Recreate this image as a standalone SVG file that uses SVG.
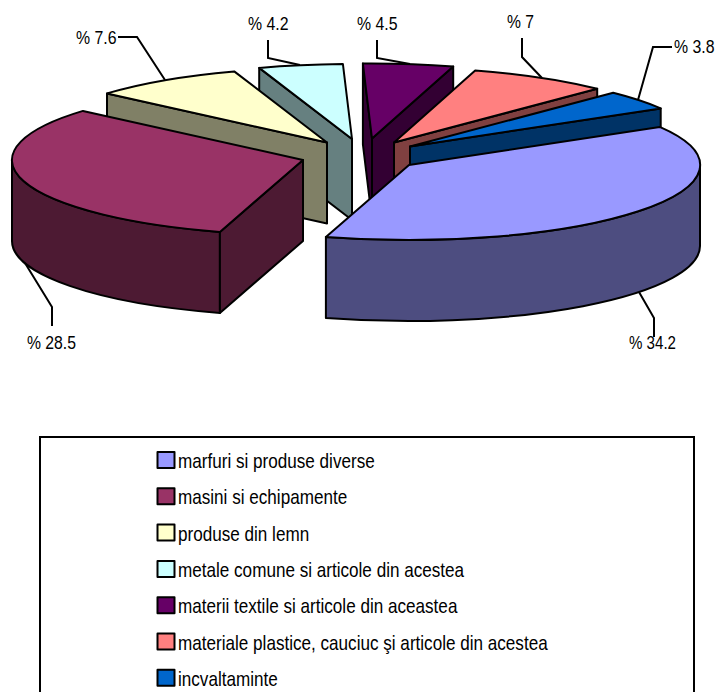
<svg xmlns="http://www.w3.org/2000/svg" width="719" height="692" viewBox="0 0 719 692">
<style>
.s{stroke:#000;stroke-width:2;stroke-linejoin:round}
.lbl{font-family:"Liberation Sans",Arial,sans-serif;font-size:17.5px;fill:#000}
.lead{fill:none;stroke:#000;stroke-width:2}
.leg{font-family:"Liberation Sans",Arial,sans-serif;font-size:21px;fill:#000}
.box{fill:none;stroke:#000;stroke-width:2}
</style>
<rect width="719" height="692" fill="#fff"/>
<g id="slice-metale">
<path class="s" fill="#668080" d="M352,139 L259.2,67.9 L259.2,148.9 L352,220 Z"/>
<path class="s" fill="#CCFFFF" d="M352,139 L259.2,67.9 A291,75 0 0 1 342.9,64 Z"/>
<text class="lbl" x="248" y="30" textLength="40.5" lengthAdjust="spacingAndGlyphs">% 4.2</text>
</g>
<g id="slice-textile">
<path class="s" fill="#330033" d="M372,138.5 L362.9,63.5 L362.9,144.5 L372,219.5 Z"/>
<path class="s" fill="#330033" d="M372,138.5 L453.2,66.5 L453.2,147.5 L372,219.5 Z"/>
<path class="s" fill="#660066" d="M372,138.5 L362.9,63.5 A291,75 0 0 1 453.2,66.5 Z"/>
<text class="lbl" x="357" y="30" textLength="40.5" lengthAdjust="spacingAndGlyphs">% 4.5</text>
</g>
<g id="slice-lemn">
<path class="s" fill="#808066" d="M327,142.5 L107,93.4 L107,174.4 L327,223.5 Z"/>
<path class="s" fill="#FFFFCC" d="M327,142.5 L107,93.4 A291,75 0 0 1 234.2,71.4 Z"/>
<text class="lbl" x="76" y="44" textLength="40.5" lengthAdjust="spacingAndGlyphs">% 7.6</text>
</g>
<g id="slice-plastice">
<path class="s" fill="#804040" d="M394,142.5 L597.2,88.8 L597.2,169.8 L394,223.5 Z"/>
<path class="s" fill="#FF8080" d="M394,142.5 L475.2,70.5 A291,75 0 0 1 597.2,88.8 Z"/>
<text class="lbl" x="507" y="28" textLength="27" lengthAdjust="spacingAndGlyphs">% 7</text>
</g>
<g id="slice-incaltaminte">
<path class="s" fill="#003366" d="M410,146.5 L660.7,108.4 L660.7,189.4 L410,227.5 Z"/>
<path class="s" fill="#0066CC" d="M410,146.5 L613.2,92.8 A291,75 0 0 1 660.7,108.4 Z"/>
<text class="lbl" x="674" y="53" textLength="40.5" lengthAdjust="spacingAndGlyphs">% 3.8</text>
</g>
<g id="slice-masini">
<path class="s" fill="#4D1A33" d="M219.9,231.9 A291,75 0 0 1 12,160 L12,241 A291,75 0 0 0 219.9,312.9 Z"/>
<path class="s" fill="#4D1A33" d="M303,160 L219.9,231.9 L219.9,312.9 L303,241 Z"/>
<path class="s" fill="#993366" d="M303,160 L219.9,231.9 A291,75 0 0 1 83,110.9 Z"/>
<text class="lbl" x="27" y="349" textLength="49" lengthAdjust="spacingAndGlyphs">% 28.5</text>
</g>
<g id="slice-marfuri">
<path class="s" fill="#4D4D80" d="M700,165 A291,75 0 0 1 325.9,236.9 L325.9,317.9 A291,75 0 0 0 700,246 Z"/>
<path class="s" fill="#9999FF" d="M409,165 L659.7,126.9 A291,75 0 0 1 325.9,236.9 Z"/>
<text class="lbl" x="629" y="349" textLength="47" lengthAdjust="spacingAndGlyphs">% 34.2</text>
</g>
<g id="connectors">
<polyline class="lead" points="118,37 137,37 165,80"/>
<polyline class="lead" points="268,40 268,58 300,65"/>
<polyline class="lead" points="377,40 377,58 410,64"/>
<polyline class="lead" points="522,38 522,57 542,78"/>
<polyline class="lead" points="672,47 653,47 638,100"/>
<polyline class="lead" points="52,326 52,307 25,263"/>
<polyline class="lead" points="654,337 654,318 639,292"/>
</g>
<g id="legend">
<rect class="box" x="40" y="437" width="654" height="270"/>
<g id="leg-marfuri"><rect class="s" x="157.5" y="452" width="17" height="16" fill="#9999FF"/><text class="leg" x="178" y="468" textLength="196.7" lengthAdjust="spacingAndGlyphs">marfuri si produse diverse</text></g>
<g id="leg-masini"><rect class="s" x="157.5" y="488.3" width="17" height="16" fill="#993366"/><text class="leg" x="178" y="504.3" textLength="169.2" lengthAdjust="spacingAndGlyphs">masini si echipamente</text></g>
<g id="leg-lemn"><rect class="s" x="157.5" y="524.6" width="17" height="16" fill="#FFFFCC"/><text class="leg" x="178" y="540.6" textLength="131.2" lengthAdjust="spacingAndGlyphs">produse din lemn</text></g>
<g id="leg-metale"><rect class="s" x="157.5" y="560.9" width="17" height="16" fill="#CCFFFF"/><text class="leg" x="178" y="576.9" textLength="286.1" lengthAdjust="spacingAndGlyphs">metale comune si articole din acestea</text></g>
<g id="leg-textile"><rect class="s" x="157.5" y="597.2" width="17" height="16" fill="#660066"/><text class="leg" x="178" y="613.2" textLength="279.4" lengthAdjust="spacingAndGlyphs">materii textile si articole din aceastea</text></g>
<g id="leg-plastice"><rect class="s" x="157.5" y="633.5" width="17" height="16" fill="#FF8080"/><text class="leg" x="178" y="649.5" textLength="369.7" lengthAdjust="spacingAndGlyphs">materiale plastice, cauciuc şi articole din acestea</text></g>
<g id="leg-incaltaminte"><rect class="s" x="157.5" y="669.8" width="17" height="16" fill="#0066CC"/><text class="leg" x="178" y="685.8" textLength="99.8" lengthAdjust="spacingAndGlyphs">incvaltaminte</text></g>
</g>
</svg>
